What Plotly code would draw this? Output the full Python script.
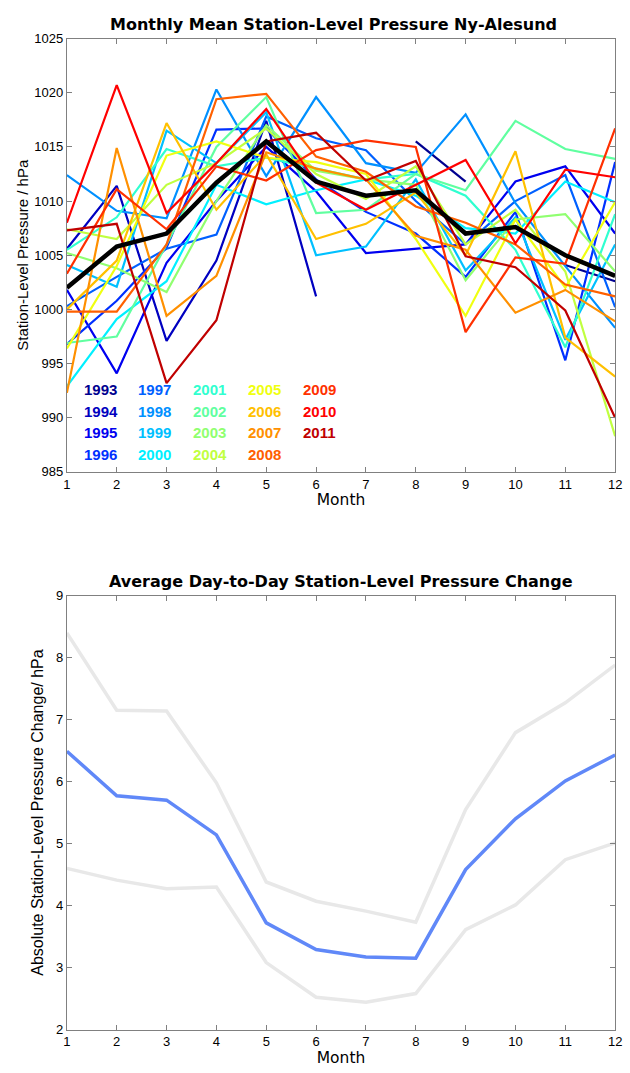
import plotly.graph_objects as go

months = list(range(1, 13))
years = [1993, 1994, 1995, 1996, 1997, 1998, 1999, 2000, 2001, 2002,
         2003, 2004, 2005, 2006, 2007, 2008, 2009, 2010, 2011]

p1993 = [None, None, None, None, None, None, None, 1015.5, 1011.8, None, 1004.1, 1002.6]
p1994 = [1005.6, 1011.4, 997.1, 1004.5, 1017.4, 1001.2, None, None, None, None, None, None]
p1995 = [1001.8, 994.1, 1004.3, 1010.0, 1015.0, 1010.9, 1005.2, 1005.6, 1006.0, 1011.8, 1013.2, 1007.0]
p1996 = [996.8, 1000.8, 1005.7, 1016.6, 1016.7, 1012.0, 1009.0, 1007.0, 1003.0, 1009.0, 995.3, 1013.6]
p1997 = [1000.3, 1003.0, 1005.6, 1006.9, 1017.8, 1015.8, 1014.7, 1010.0, 1006.0, 1010.0, 1012.4, 1000.2]
p1998 = [1012.4, 1009.1, 1008.4, 1020.3, 1012.3, 1019.6, 1013.5, 1012.6, 1018.0, 1009.8, 1004.0, 998.3]
p1999 = [1004.1, 1002.1, 1016.5, 1013.5, 1018.2, 1005.0, 1005.8, 1012.0, 1003.6, 1008.5, 997.2, 1006.0]
p2000 = [992.9, 999.1, 1002.6, 1011.5, 1009.7, 1011.0, 1012.0, 1010.5, 1007.5, 1007.0, 1011.8, 1009.9]
p2001 = [1005.5, 1008.5, 1014.8, 1013.2, 1014.0, 1013.0, 1012.0, 1012.5, 1010.5, 1005.5, 996.5, 1008.8]
p2002 = [996.9, 997.5, 1006.0, 1015.0, 1019.6, 1008.9, 1009.2, 1012.5, 1011.0, 1017.4, 1014.8, 1013.9]
p2003 = [1005.2, 1003.8, 1001.6, 1010.0, 1017.0, 1012.8, 1012.0, 1011.5, 1002.7, 1008.3, 1008.8, 1003.5]
p2004 = [1007.4, 1006.5, 1011.5, 1013.5, 1016.7, 1012.5, 1010.2, 1013.2, 1006.0, 1009.2, 1003.5, 988.3]
p2005 = [996.4, 1004.0, 1014.2, 1015.5, 1014.0, 1013.6, 1012.5, 1006.5, 999.4, 1008.3, 1002.0, 1009.9]
p2006 = [1000.0, 1004.5, 1017.2, 1009.2, 1014.3, 1006.5, 1007.9, 1010.8, 1005.0, 1014.6, 997.4, 993.8]
p2007 = [992.3, 1014.9, 999.4, 1003.1, 1014.5, 1013.0, 1012.0, 1006.8, 1005.5, 999.7, 1001.8, 998.9]
p2008 = [999.8, 999.8, 1006.0, 1019.4, 1019.9, 1014.1, 1012.7, 1009.5, 1008.0, 1006.0, 1002.3, 1001.2]
p2009 = [1003.3, 1011.1, 1007.4, 1013.2, 1011.9, 1014.7, 1015.6, 1015.0, 997.9, 1004.8, 1004.2, 1016.7]
p2010 = [1008.0, 1020.7, 1008.9, 1013.5, 1018.5, 1011.7, 1009.2, 1011.5, 1013.8, 1006.1, 1012.9, 1012.2]
p2011 = [1007.3, 1007.9, 993.2, 999.0, 1015.5, 1016.3, 1011.9, 1013.7, 1004.9, 1003.9, 999.9, 990.0]
mean_pressure = [1002.0, 1005.8, 1007.0, 1011.7, 1015.5, 1011.8, 1010.5, 1011.0, 1007.0, 1007.6, 1005.0, 1003.1]

change_mean = [6.49, 5.77, 5.70, 5.14, 3.72, 3.29, 3.17, 3.15, 4.58, 5.40, 6.01, 6.43]
change_upper = [8.40, 7.15, 7.14, 5.98, 4.38, 4.07, 3.91, 3.73, 5.55, 6.79, 7.27, 7.88]
change_lower = [4.60, 4.41, 4.27, 4.30, 3.08, 2.52, 2.44, 2.58, 3.61, 4.01, 4.74, 5.01]

series = [p1993, p1994, p1995, p1996, p1997, p1998, p1999, p2000, p2001, p2002,
          p2003, p2004, p2005, p2006, p2007, p2008, p2009, p2010, p2011]
colors = ["#000090", "#0000C0", "#0000F0", "#0030FF", "#0060FF", "#0090FF", "#00C0FF",
          "#00F0FF", "#30FFD0", "#60FFA0", "#90FF70", "#C0FF40", "#F0FF10", "#FFC000",
          "#FF9000", "#FF6000", "#FF3000", "#FF0000", "#C00000"]

FONT = "Arial, Liberation Sans, sans-serif"
WIDE = "DejaVu Sans, Verdana, sans-serif"
W, H = 630, 1073

fig = go.Figure()
for yr, vals, c in zip(years, series, colors):
    fig.add_trace(go.Scatter(x=months, y=vals, mode="lines", name=str(yr),
                             line=dict(color=c, width=2.2), xaxis="x", yaxis="y",
                             showlegend=False))
fig.add_trace(go.Scatter(x=months, y=mean_pressure, mode="lines", name="Mean",
                         line=dict(color="black", width=4.5), xaxis="x", yaxis="y",
                         showlegend=False))

fig.add_trace(go.Scatter(x=months, y=change_upper, mode="lines", line=dict(color="#E8E8E8", width=3.5),
                         xaxis="x2", yaxis="y2", showlegend=False))
fig.add_trace(go.Scatter(x=months, y=change_lower, mode="lines", line=dict(color="#E8E8E8", width=3.5),
                         xaxis="x2", yaxis="y2", showlegend=False))
fig.add_trace(go.Scatter(x=months, y=change_mean, mode="lines", line=dict(color="#6088F8", width=3.5),
                         xaxis="x2", yaxis="y2", showlegend=False))

xdom = [64 / W, 622 / W]
top_dom = [1 - 471.5 / H, 1 - 32 / H]
bot_dom = [1 - 1037 / H, 1 - 597 / H]

axis_common = dict(showline=True, linecolor="#808080", linewidth=1, mirror="ticks",
                   ticks="inside", ticklen=5, tickcolor="#808080", showgrid=False,
                   zeroline=False, tickfont=dict(family=FONT, size=13, color="black"))

# legend-like year labels
col_x = [79, 134, 190, 246, 302]
row_y = [388, 410, 432, 454]
annotations = []
for i, (yr, c) in enumerate(zip(years, colors)):
    col, row = divmod(i, 4)
    annotations.append(dict(text=f"<b>{yr}</b>", x=col_x[col] / W, y=1 - row_y[row] / H,
                            xref="paper", yref="paper", xanchor="left", yanchor="middle",
                            showarrow=False, font=dict(family=FONT, size=15, color=c)))

annotations.append(dict(text="<b>Monthly Mean Station-Level Pressure Ny-Alesund</b>",
                        x=335 / W, y=1 - 18 / H, xref="paper", yref="paper",
                        xanchor="center", yanchor="middle", showarrow=False,
                        font=dict(family=WIDE, size=16, color="black")))
annotations.append(dict(text="<b>Average Day-to-Day Station-Level Pressure Change</b>",
                        x=343 / W, y=1 - 583 / H, xref="paper", yref="paper",
                        xanchor="center", yanchor="middle", showarrow=False,
                        font=dict(family=WIDE, size=16, color="black")))

fig.update_layout(
    width=W, height=H, margin=dict(l=0, r=0, t=0, b=0),
    paper_bgcolor="white", plot_bgcolor="white",
    font=dict(family=FONT, color="black"),
    xaxis=dict(domain=xdom, anchor="y", range=[1, 12], dtick=1, tick0=1,
               title=dict(text="Month", font=dict(family=WIDE, size=15.5), standoff=2), **axis_common),
    yaxis=dict(domain=top_dom, anchor="x", range=[985, 1025], dtick=5,
               title=dict(text="Station-Level Pressure / hPa", font=dict(family=FONT, size=15), standoff=2),
               **axis_common),
    xaxis2=dict(domain=xdom, anchor="y2", range=[1, 12], dtick=1, tick0=1,
                title=dict(text="Month", font=dict(family=WIDE, size=15.5), standoff=2), **axis_common),
    yaxis2=dict(domain=bot_dom, anchor="x2", range=[2, 9], dtick=1,
                title=dict(text="Absolute Station-Level Pressure Change/ hPa", font=dict(family=FONT, size=16),
                           standoff=8),
                **axis_common),
    annotations=annotations,
)

fig.write_html("out.html")
